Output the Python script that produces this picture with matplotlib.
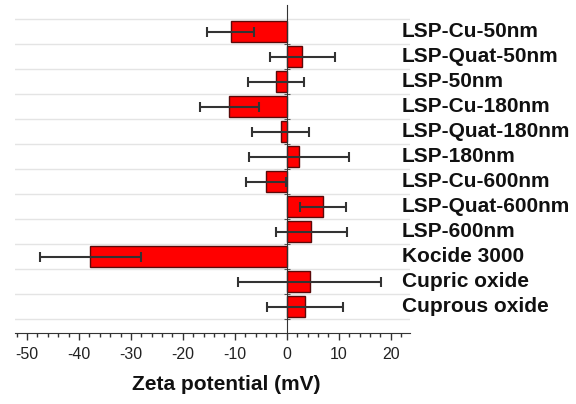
import matplotlib.pyplot as plt
from matplotlib.ticker import MultipleLocator
import matplotlib.transforms as mtransforms

plt.rcParams['font.family'] = ['Liberation Sans', 'DejaVu Sans']
plt.rcParams['axes.unicode_minus'] = False

# samples, top to bottom
samples = ["LSP-Cu-50nm", "LSP-Quat-50nm", "LSP-50nm", "LSP-Cu-180nm",
           "LSP-Quat-180nm", "LSP-180nm", "LSP-Cu-600nm", "LSP-Quat-600nm",
           "LSP-600nm", "Kocide 3000", "Cupric oxide", "Cuprous oxide"]
zeta = [-10.8, 3.0, -2.0, -11.1, -1.2, 2.3, -4.0, 7.0, 4.7, -37.8, 4.4, 3.5]
zeta_sd = [4.5, 6.3, 5.4, 5.7, 5.5, 9.6, 3.8, 4.4, 6.8, 9.7, 13.8, 7.4]

fig = plt.figure(figsize=(5.76, 4.04), dpi=100)
ax = fig.add_axes([15 / 576, 1 - 333 / 404, 395 / 576, 328 / 404])

pos = list(range(len(samples)))
ax.barh(pos, zeta, height=0.84, color='#ff0000', edgecolor='#5a0a0a',
        linewidth=1.0, zorder=3)
ax.errorbar(zeta, pos, xerr=zeta_sd, fmt='none', ecolor='#333333',
            elinewidth=1.5, capsize=3.5, capthick=1.5, zorder=4)

# faint row separators
for b in [p + 0.5 for p in pos] + [-0.5]:
    ax.axhline(b, color='#e4e4e4', lw=1.0, zorder=0)

ax.set_xlim(-52.3, 23.7)
ax.set_ylim(12.05, -1.07)

ax.spines['top'].set_visible(False)
ax.spines['right'].set_visible(False)
ax.spines['left'].set_position(('data', 0))
ax.spines['left'].set_color('#333333')
ax.spines['bottom'].set_color('#333333')
ax.spines['left'].set_zorder(5)

ax.set_yticks([p + 0.5 for p in pos])
ax.set_yticklabels([])
ax.tick_params(axis='y', direction='inout', length=5, color='#555555')

ax.xaxis.set_major_locator(MultipleLocator(10))
ax.xaxis.set_minor_locator(MultipleLocator(2))
ax.tick_params(axis='x', which='major', length=5, width=1, color='#333333',
               labelsize=11.5, labelcolor='#222222', pad=5)
ax.tick_params(axis='x', which='minor', length=3, width=1, color='#333333')

trans = mtransforms.blended_transform_factory(fig.transFigure, ax.transData)
for p, name in zip(pos, samples):
    ax.text(402 / 576, p, name, transform=trans, ha='left', va='center',
            fontsize=15, fontweight='bold', color='#111111', clip_on=False)

fig.text(226 / 576, 1 - 385 / 404, "Zeta potential (mV)", ha='center',
         va='center', fontsize=15, fontweight='bold', color='#111111')

fig.savefig('out.png', dpi=100)
